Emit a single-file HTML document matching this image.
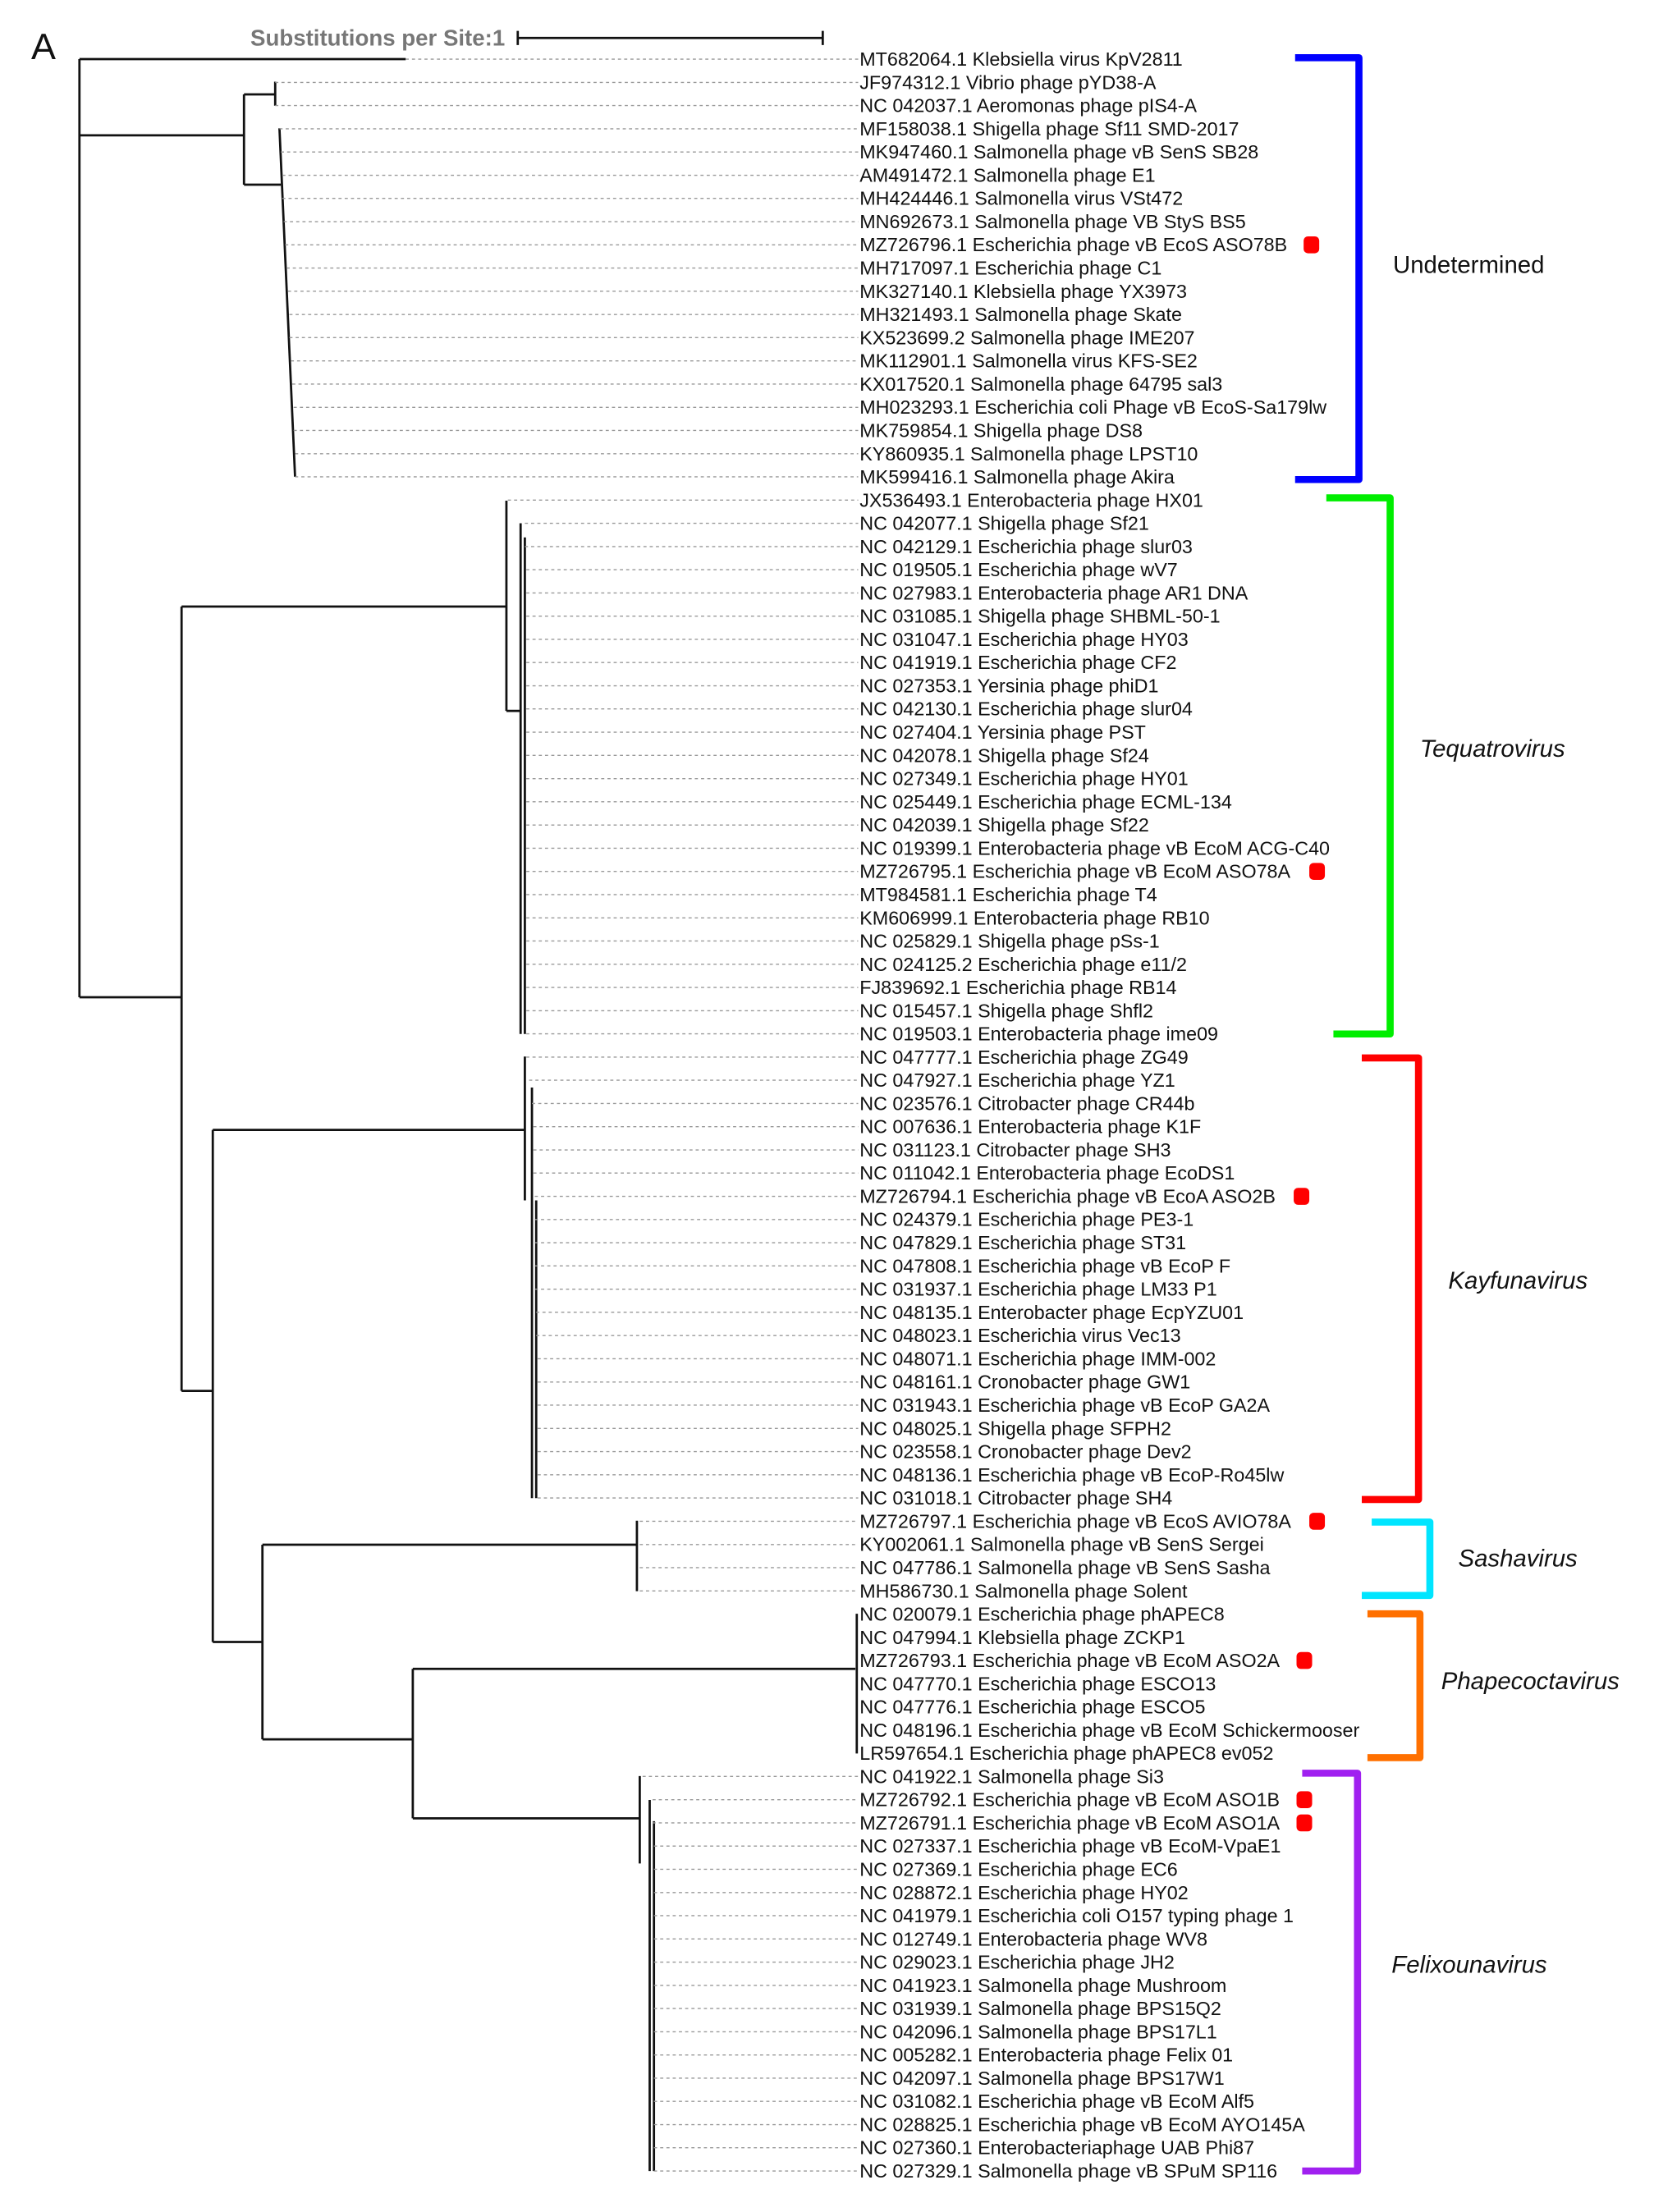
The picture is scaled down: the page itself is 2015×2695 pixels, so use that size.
<!DOCTYPE html>
<html><head><meta charset="utf-8"><style>
html,body{margin:0;padding:0;background:#fff}
svg{display:block}
.l{font-family:"Liberation Sans",sans-serif;font-size:13.5px;fill:#111;dominant-baseline:central}
.d{stroke:#999;stroke-width:0.8;stroke-dasharray:2.2,2.2}
.b{stroke:#111;stroke-width:1.6;fill:none}
.c{font-family:"Liberation Sans",sans-serif;font-size:17px;fill:#111;dominant-baseline:central}
.i{font-style:italic}
</style></head><body>
<svg width="2015" height="2695" viewBox="0 0 1166 1559.5" xmlns="http://www.w3.org/2000/svg">
<g transform="translate(0,0.92) scale(1,0.9946)">
<text x="22" y="41" font-family="Liberation Sans,sans-serif" font-size="26" fill="#111">A</text>
<text x="356" y="26" text-anchor="end" font-family="Liberation Sans,sans-serif" font-size="16" font-weight="bold" fill="#777" dominant-baseline="central">Substitutions per Site:1</text>
<path class="b" d="M365 26H580M365 21V31M580 21V31"/>
<path class="b" d="M56 41V706M56 41H286M56 95H172M172 66V130M172 66H194M194 57V74M172 130H198"/>
<path class="b" stroke-width="2" d="M197 90L208 337"/>
<path class="b" d="M56 706H128M128 429V985M128 429H357M357 354V503M357 503H367M367 370V732M370 380V732"/>
<path class="b" d="M128 985H150M150 800V1163M150 800H370M370 748V850M375 770V1061M378 850V1061"/>
<path class="b" d="M150 1163H185M185 1094V1232M185 1094H449M449 1077V1127M185 1232H291M291 1182V1288M291 1182H603M604 1143V1242M291 1288H451M451 1258V1320M458 1275V1538M461 1290V1538"/>
<g>
<path class="d" d="M286 41H605M194 57.5H605M194 73.9H605M197 90.4H605M198 106.8H605M199 123.3H605M199 139.7H605M200 156.2H605M201 172.6H605M202 189.1H605M203 205.5H605M204 222H605M204 238.4H605M205 254.9H605M206 271.3H605M207 287.8H605M207 304.2H605M208 320.7H605M208 337.1H605"/>
<path class="d" d="M358 353.6H605M370 370H605M370 386.5H605M371 402.9H605M371 419.4H605M371 435.8H605M371 452.3H605M371 468.7H605M371 485.2H605M371 501.6H605M371 518.1H605M371 534.5H605M371 551H605M371 567.4H605M371 583.9H605M371 600.3H605M371 616.8H605M371 633.2H605M371 649.7H605M371 666.1H605M371 682.6H605M371 699H605M371 715.5H605M371 731.9H605"/>
<path class="d" d="M371 748.4H605M373 764.8H605M375 781.3H605M376 797.7H605M376 814.2H605M376 830.6H605M377 847.1H605M377 863.5H605M377 880H605M377 896.4H605M377 912.9H605M378 929.3H605M378 945.8H605M379 962.2H605M379 978.7H605M379 995.1H605M379 1011.6H605M379 1028H605M379 1044.5H605M379 1060.9H605"/>
<path class="d" d="M451 1077.4H605M451 1093.9H605M451 1110.3H605M451 1126.8H605"/>
<path class="d" d="M453 1258.3H605M460 1274.8H605M460 1291.2H605M461 1307.7H605M461 1324.1H605M461 1340.6H605M461 1357H605M461 1373.5H605M461 1389.9H605M461 1406.4H605M461 1422.8H605M461 1439.3H605M461 1455.7H605M461 1472.2H605M461 1488.6H605M461 1505.1H605M461 1521.5H605M461 1538H605"/>
</g>
<g class="l">
<text x="606" y="41">MT682064.1 Klebsiella virus KpV2811</text>
<text x="606" y="57.5">JF974312.1 Vibrio phage pYD38-A</text>
<text x="606" y="73.9">NC 042037.1 Aeromonas phage pIS4-A</text>
<text x="606" y="90.4">MF158038.1 Shigella phage Sf11 SMD-2017</text>
<text x="606" y="106.8">MK947460.1 Salmonella phage vB SenS SB28</text>
<text x="606" y="123.3">AM491472.1 Salmonella phage E1</text>
<text x="606" y="139.7">MH424446.1 Salmonella virus VSt472</text>
<text x="606" y="156.2">MN692673.1 Salmonella phage VB StyS BS5</text>
<text x="606" y="172.6">MZ726796.1 Escherichia phage vB EcoS ASO78B</text>
<text x="606" y="189.1">MH717097.1 Escherichia phage C1</text>
<text x="606" y="205.5">MK327140.1 Klebsiella phage YX3973</text>
<text x="606" y="222">MH321493.1 Salmonella phage Skate</text>
<text x="606" y="238.4">KX523699.2 Salmonella phage IME207</text>
<text x="606" y="254.9">MK112901.1 Salmonella virus KFS-SE2</text>
<text x="606" y="271.3">KX017520.1 Salmonella phage 64795 sal3</text>
<text x="606" y="287.8">MH023293.1 Escherichia coli Phage vB EcoS-Sa179lw</text>
<text x="606" y="304.2">MK759854.1 Shigella phage DS8</text>
<text x="606" y="320.7">KY860935.1 Salmonella phage LPST10</text>
<text x="606" y="337.1">MK599416.1 Salmonella phage Akira</text>
<text x="606" y="353.6">JX536493.1 Enterobacteria phage HX01</text>
<text x="606" y="370">NC 042077.1 Shigella phage Sf21</text>
<text x="606" y="386.5">NC 042129.1 Escherichia phage slur03</text>
<text x="606" y="402.9">NC 019505.1 Escherichia phage wV7</text>
<text x="606" y="419.4">NC 027983.1 Enterobacteria phage AR1 DNA</text>
<text x="606" y="435.8">NC 031085.1 Shigella phage SHBML-50-1</text>
<text x="606" y="452.3">NC 031047.1 Escherichia phage HY03</text>
<text x="606" y="468.7">NC 041919.1 Escherichia phage CF2</text>
<text x="606" y="485.2">NC 027353.1 Yersinia phage phiD1</text>
<text x="606" y="501.6">NC 042130.1 Escherichia phage slur04</text>
<text x="606" y="518.1">NC 027404.1 Yersinia phage PST</text>
<text x="606" y="534.5">NC 042078.1 Shigella phage Sf24</text>
<text x="606" y="551">NC 027349.1 Escherichia phage HY01</text>
<text x="606" y="567.4">NC 025449.1 Escherichia phage ECML-134</text>
<text x="606" y="583.9">NC 042039.1 Shigella phage Sf22</text>
<text x="606" y="600.3">NC 019399.1 Enterobacteria phage vB EcoM ACG-C40</text>
<text x="606" y="616.8">MZ726795.1 Escherichia phage vB EcoM ASO78A</text>
<text x="606" y="633.2">MT984581.1 Escherichia phage T4</text>
<text x="606" y="649.7">KM606999.1 Enterobacteria phage RB10</text>
<text x="606" y="666.1">NC 025829.1 Shigella phage pSs-1</text>
<text x="606" y="682.6">NC 024125.2 Escherichia phage e11/2</text>
<text x="606" y="699">FJ839692.1 Escherichia phage RB14</text>
<text x="606" y="715.5">NC 015457.1 Shigella phage Shfl2</text>
<text x="606" y="731.9">NC 019503.1 Enterobacteria phage ime09</text>
<text x="606" y="748.4">NC 047777.1 Escherichia phage ZG49</text>
<text x="606" y="764.8">NC 047927.1 Escherichia phage YZ1</text>
<text x="606" y="781.3">NC 023576.1 Citrobacter phage CR44b</text>
<text x="606" y="797.7">NC 007636.1 Enterobacteria phage K1F</text>
<text x="606" y="814.2">NC 031123.1 Citrobacter phage SH3</text>
<text x="606" y="830.6">NC 011042.1 Enterobacteria phage EcoDS1</text>
<text x="606" y="847.1">MZ726794.1 Escherichia phage vB EcoA ASO2B</text>
<text x="606" y="863.5">NC 024379.1 Escherichia phage PE3-1</text>
<text x="606" y="880">NC 047829.1 Escherichia phage ST31</text>
<text x="606" y="896.4">NC 047808.1 Escherichia phage vB EcoP F</text>
<text x="606" y="912.9">NC 031937.1 Escherichia phage LM33 P1</text>
<text x="606" y="929.3">NC 048135.1 Enterobacter phage EcpYZU01</text>
<text x="606" y="945.8">NC 048023.1 Escherichia virus Vec13</text>
<text x="606" y="962.2">NC 048071.1 Escherichia phage IMM-002</text>
<text x="606" y="978.7">NC 048161.1 Cronobacter phage GW1</text>
<text x="606" y="995.1">NC 031943.1 Escherichia phage vB EcoP GA2A</text>
<text x="606" y="1011.6">NC 048025.1 Shigella phage SFPH2</text>
<text x="606" y="1028">NC 023558.1 Cronobacter phage Dev2</text>
<text x="606" y="1044.5">NC 048136.1 Escherichia phage vB EcoP-Ro45lw</text>
<text x="606" y="1060.9">NC 031018.1 Citrobacter phage SH4</text>
<text x="606" y="1077.4">MZ726797.1 Escherichia phage vB EcoS AVIO78A</text>
<text x="606" y="1093.9">KY002061.1 Salmonella phage vB SenS Sergei</text>
<text x="606" y="1110.3">NC 047786.1 Salmonella phage vB SenS Sasha</text>
<text x="606" y="1126.8">MH586730.1 Salmonella phage Solent</text>
<text x="606" y="1143.2">NC 020079.1 Escherichia phage phAPEC8</text>
<text x="606" y="1159.7">NC 047994.1 Klebsiella phage ZCKP1</text>
<text x="606" y="1176.1">MZ726793.1 Escherichia phage vB EcoM ASO2A</text>
<text x="606" y="1192.6">NC 047770.1 Escherichia phage ESCO13</text>
<text x="606" y="1209">NC 047776.1 Escherichia phage ESCO5</text>
<text x="606" y="1225.5">NC 048196.1 Escherichia phage vB EcoM Schickermooser</text>
<text x="606" y="1241.9">LR597654.1 Escherichia phage phAPEC8 ev052</text>
<text x="606" y="1258.3">NC 041922.1 Salmonella phage Si3</text>
<text x="606" y="1274.8">MZ726792.1 Escherichia phage vB EcoM ASO1B</text>
<text x="606" y="1291.2">MZ726791.1 Escherichia phage vB EcoM ASO1A</text>
<text x="606" y="1307.7">NC 027337.1 Escherichia phage vB EcoM-VpaE1</text>
<text x="606" y="1324.1">NC 027369.1 Escherichia phage EC6</text>
<text x="606" y="1340.6">NC 028872.1 Escherichia phage HY02</text>
<text x="606" y="1357">NC 041979.1 Escherichia coli O157 typing phage 1</text>
<text x="606" y="1373.5">NC 012749.1 Enterobacteria phage WV8</text>
<text x="606" y="1389.9">NC 029023.1 Escherichia phage JH2</text>
<text x="606" y="1406.4">NC 041923.1 Salmonella phage Mushroom</text>
<text x="606" y="1422.8">NC 031939.1 Salmonella phage BPS15Q2</text>
<text x="606" y="1439.3">NC 042096.1 Salmonella phage BPS17L1</text>
<text x="606" y="1455.7">NC 005282.1 Enterobacteria phage Felix 01</text>
<text x="606" y="1472.2">NC 042097.1 Salmonella phage BPS17W1</text>
<text x="606" y="1488.6">NC 031082.1 Escherichia phage vB EcoM Alf5</text>
<text x="606" y="1505.1">NC 028825.1 Escherichia phage vB EcoM AYO145A</text>
<text x="606" y="1521.5">NC 027360.1 Enterobacteriaphage UAB Phi87</text>
<text x="606" y="1538">NC 027329.1 Salmonella phage vB SPuM SP116</text>
</g>
<g fill="#f00">
<rect x="919" y="166.6" width="11" height="12" rx="3"/>
<rect x="923" y="610.8" width="11" height="12" rx="3"/>
<rect x="912" y="841.1" width="11" height="12" rx="3"/>
<rect x="923" y="1071.4" width="11" height="12" rx="3"/>
<rect x="914" y="1170.1" width="11" height="12" rx="3"/>
<rect x="914" y="1268.8" width="11" height="12" rx="3"/>
<rect x="914" y="1285.2" width="11" height="12" rx="3"/>
</g>
<g fill="none" stroke-width="5" stroke-linejoin="round">
<path stroke="#0000ff" d="M913 40H958V339H913"/>
<path stroke="#00ee00" d="M935 352H980V732H940"/>
<path stroke="#ff0000" d="M960 749H1000V1062H960"/>
<path stroke="#00e5ff" d="M967 1078H1008V1130H960"/>
<path stroke="#ff7000" d="M964 1143H1001V1245H964"/>
<path stroke="#a020f0" d="M918 1256H957V1538H918"/>
</g>
<text class="c" x="982" y="187">Undetermined</text>
<text class="c i" x="1001" y="530">Tequatrovirus</text>
<text class="c i" x="1021" y="907">Kayfunavirus</text>
<text class="c i" x="1028" y="1104">Sashavirus</text>
<text class="c i" x="1016" y="1191">Phapecoctavirus</text>
<text class="c i" x="981" y="1392">Felixounavirus</text>
</g>
</svg>
</body></html>
